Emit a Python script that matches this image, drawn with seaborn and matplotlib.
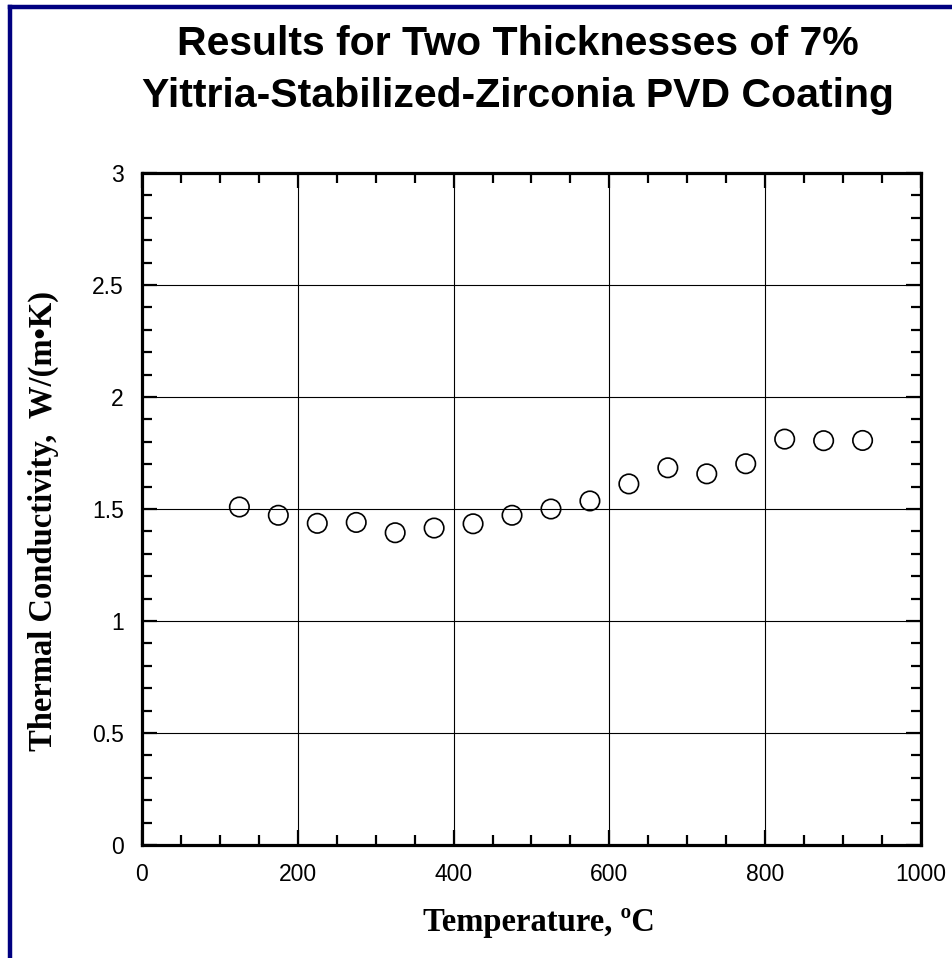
import matplotlib
matplotlib.use("Agg")
import matplotlib.pyplot as plt
from matplotlib.ticker import MultipleLocator, FuncFormatter
from matplotlib.lines import Line2D
import seaborn as sns
import pandas as pd

temperature_c = [125, 175, 225, 275, 325, 375, 425, 475, 525, 575, 625, 675, 725, 775, 825, 875, 925]
conductivity = [1.509, 1.472, 1.436, 1.440, 1.394, 1.415, 1.434, 1.472, 1.500, 1.536, 1.612,
                1.684, 1.657, 1.702, 1.812, 1.805, 1.806]

title_lines = ["Results for Two Thicknesses of 7%", "Yittria-Stabilized-Zirconia PVD Coating"]
x_label = "Temperature, ºC"
y_label = "Thermal Conductivity,  W/(m•K)"

df = pd.DataFrame({"T": temperature_c, "k": conductivity})

sns.set_style("white")
plt.rcParams["font.family"] = ["Liberation Sans", "DejaVu Sans"]
plt.rcParams["text.color"] = "black"
plt.rcParams["axes.labelcolor"] = "black"
plt.rcParams["xtick.color"] = "black"
plt.rcParams["ytick.color"] = "black"

fig = plt.figure(figsize=(9.53, 9.58), dpi=100)
ax = fig.add_axes([142 / 953, 113 / 958, (921 - 142) / 953, (845 - 173) / 958])

sns.scatterplot(data=df, x="T", y="k", ax=ax, marker="o", s=14 ** 2,
                facecolor="none", edgecolor="black", linewidth=1.2, zorder=3)

ax.set_xlim(0, 1000)
ax.set_ylim(0, 3)
ax.xaxis.set_major_locator(MultipleLocator(200))
ax.xaxis.set_minor_locator(MultipleLocator(50))
ax.yaxis.set_major_locator(MultipleLocator(0.5))
ax.yaxis.set_minor_locator(MultipleLocator(0.1))
ax.yaxis.set_major_formatter(FuncFormatter(lambda v, p: f"{v:g}"))
ax.xaxis.set_major_formatter(FuncFormatter(lambda v, p: f"{v:g}"))

ax.grid(True, which="major", color="black", linewidth=0.8)
ax.set_axisbelow(True)
for sp in ax.spines.values():
    sp.set_visible(True)
    sp.set_color("black")
    sp.set_linewidth(2.3)

ax.tick_params(which="both", direction="in", top=True, right=True, bottom=True, left=True,
               color="black")
ax.tick_params(which="major", length=11, width=1.6, labelsize=16.5, labelcolor="black")
ax.tick_params(axis="x", which="major", pad=13)
ax.tick_params(axis="y", which="major", pad=13)
ax.tick_params(which="minor", length=7, width=1.6)

ax.set_xlabel(x_label, fontfamily="Liberation Serif", fontweight="bold", fontsize=23.5, color="black")
ax.set_ylabel(y_label, fontfamily="Liberation Serif", fontweight="bold", fontsize=23.5, color="black")
ax.xaxis.set_label_coords((539 - 142) / (921 - 142), -(931 - 845) / (845 - 173), transform=ax.transAxes)
ax.xaxis.label.set_va("baseline")
ax.yaxis.set_label_coords(-(142 - 43) / (921 - 142), (845 - 521) / (845 - 173), transform=ax.transAxes)
ax.yaxis.label.set_va("center")

fig.text(518 / 953, 1 - 55 / 958, title_lines[0], ha="center", va="baseline",
         fontsize=29.5, fontweight="bold", color="black")
fig.text(518 / 953, 1 - 107 / 958, title_lines[1], ha="center", va="baseline",
         fontsize=29.5, fontweight="bold", color="black")

navy = "#000080"
fig.add_artist(Line2D([10 / 953, 10 / 953], [0, 1 - 7 / 958], transform=fig.transFigure,
                      color=navy, linewidth=3.2, solid_capstyle="projecting"))
fig.add_artist(Line2D([10 / 953, 1.0], [1 - 7 / 958, 1 - 7 / 958], transform=fig.transFigure,
                      color=navy, linewidth=3.2, solid_capstyle="projecting"))

fig.savefig("out.png", dpi=100)
